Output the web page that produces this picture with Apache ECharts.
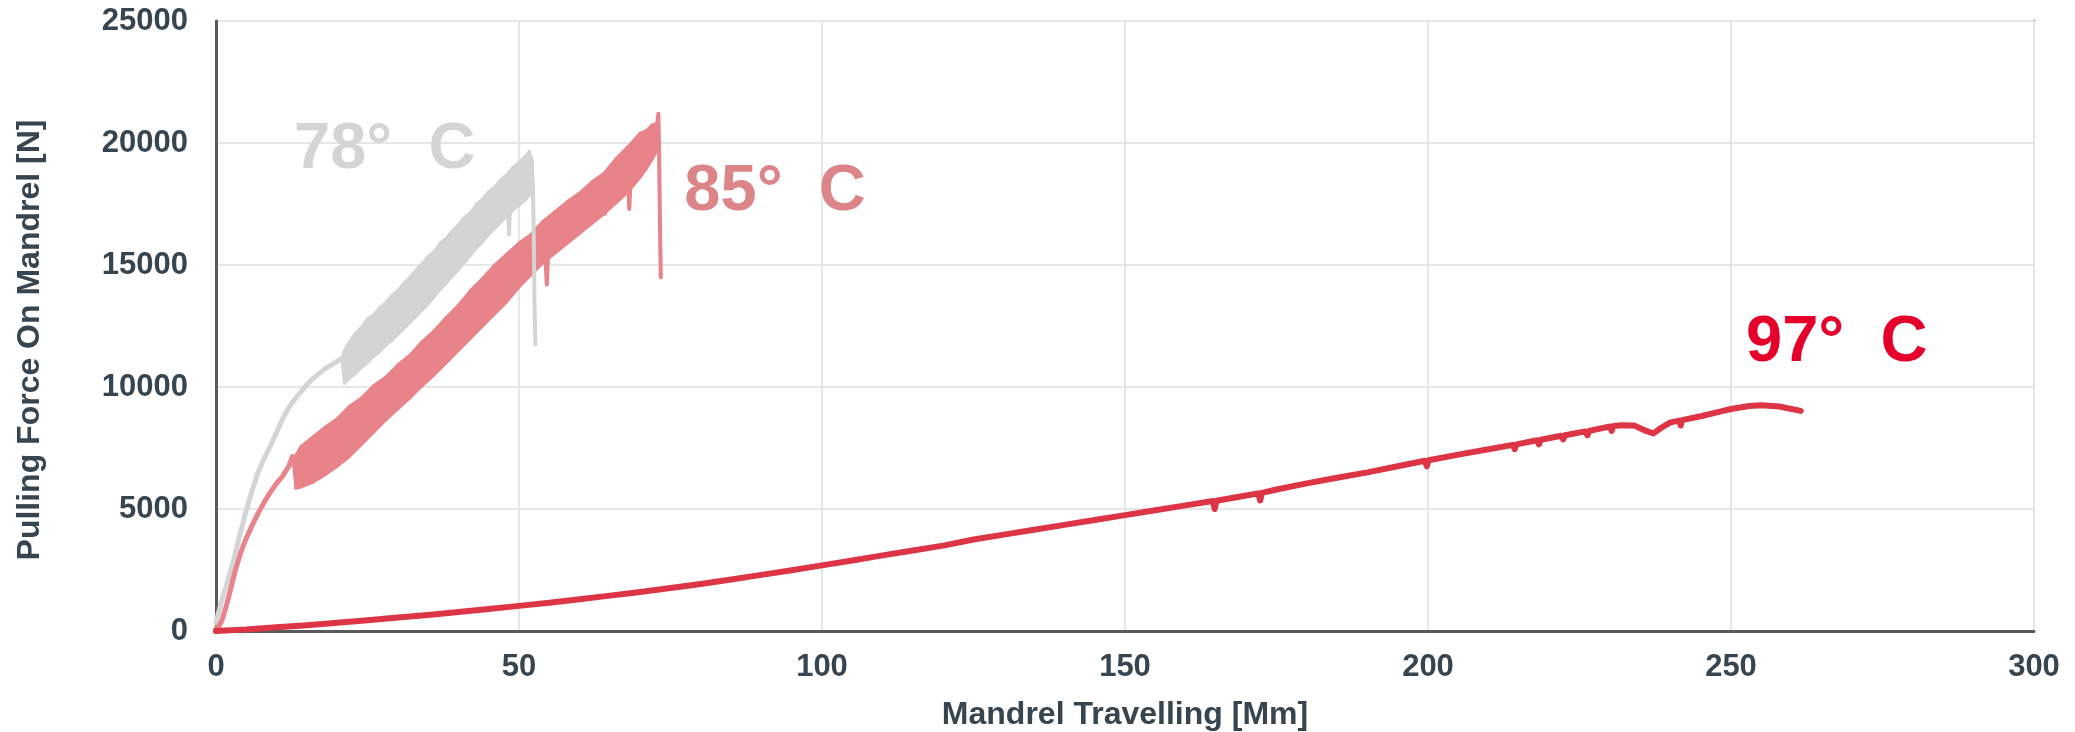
<!DOCTYPE html>
<html>
<head>
<meta charset="utf-8">
<script src="https://cdn.jsdelivr.net/npm/echarts@6/dist/echarts.min.js"></script>
<style>
  html, body { margin: 0; padding: 0; background: #fff; }
  #chart { width: 2075px; height: 732px; }
</style>
</head>
<body>
<div id="chart"></div>
<script>
// 78 C run: smooth ramp, then noisy band (lower / upper edge), spike and final drop
var t78Ramp = [[0,350],[1,1300],[2,2100],[3,3000],[4,4000],[5,4950],[6,5800],[7,6550],[8,7100],[9,7600],[10,8150],
  [11,8700],[12,9150],[13,9500],[14,9800],[15,10100],[16,10350],[17,10550],[18,10750],[19,10900],[20,11050],[20.6,11150]];
var t78BandX  = [20.8, 21.2, 22, 23, 24, 25, 26, 27, 28, 29, 30, 31, 32, 33, 34, 35, 36, 37, 38, 39, 40,
  41, 42, 43, 44, 45, 46, 47, 48, 49, 50, 51, 51.7, 52.2];
var t78BandLo = [11100, 10150, 10350, 10550, 10800, 11000, 11250, 11450, 11700, 11900, 12150, 12400, 12650, 12900, 13150, 13400, 13700, 14000, 14250, 14550, 14800,
  15100, 15400, 15700, 15950, 16250, 16500, 16750, 17000, 17250, 17450, 17650, 17850, 18000];
var t78BandHi = [11200, 11500, 11850, 12200, 12450, 12800, 12950, 13250, 13450, 13750, 13950, 14250, 14500, 14800, 15050, 15350, 15550, 15900, 16100, 16400, 16650,
  16950, 17150, 17500, 17700, 18000, 18200, 18500, 18700, 19000, 19200, 19450, 19650, 19300];
var t78Tail = [[48.2,17400],[48.35,16250],[48.5,17400],[null,null],[52.1,19200],[52.3,18200],[52.45,16000],[52.55,13500],[52.7,11750]];

// 85 C run
var t85Ramp = [[0,100],[0.5,200],[1,450],[1.5,850],[2,1300],[2.5,1800],[3,2300],[3.5,2750],[4,3150],[4.5,3500],[5,3800],
  [6,4350],[7,4850],[8,5300],[9,5700],[10,6050],[11,6350],[12,6750],[12.6,7150]];
var t85BandX  = [12.8, 13.2, 14, 16, 18, 20, 22, 24, 26, 28, 30, 32, 34, 36, 38, 40, 42, 44, 46, 48, 50,
  52, 54, 56, 58, 60, 62, 64, 66, 68, 70, 71, 72, 72.8];
var t85BandLo = [6800, 5850, 5900, 6100, 6400, 6750, 7150, 7650, 8150, 8650, 9100, 9550, 10050, 10500, 11000, 11500, 12000, 12500, 13000, 13500, 14100,
  14600, 15100, 15500, 15900, 16300, 16700, 17100, 17550, 18000, 18600, 18950, 19350, 19700];
var t85BandHi = [7150, 7200, 7550, 7950, 8350, 8700, 9200, 9550, 10050, 10400, 10900, 11300, 11850, 12300, 12850, 13350, 13950, 14450, 15000, 15450, 15900,
  16250, 16800, 17200, 17600, 17950, 18400, 18750, 19350, 19850, 20400, 20500, 20750, 20800];
var t85Tail = [[54.3,15500],[54.6,14200],[54.8,15500],[null,null],[64.0,17600],[64.2,17100],[64.4,17600],[null,null],
  [68.0,18400],[68.2,17300],[68.4,18400],[null,null],[72.8,20800],[73.0,21200],[73.1,20000],[73.2,18000],[73.3,16000],[73.4,14500]];

// 97 C run
var t97 = [[0,0],[5,60],[10,150],[15,240],[20,340],[25,440],[30,550],[35,660],[40,780],[45,900],[50,1030],[55,1160],[60,1300],
  [65,1450],[70,1600],[75,1760],[80,1930],[85,2110],[90,2300],[95,2490],[100,2690],[105,2890],[110,3100],[115,3300],[120,3500],
  [125,3750],[130,3950],[135,4150],[140,4350],[145,4550],[150,4750],[155,4950],[160,5150],[164.5,5330],[164.8,5000],[165.1,5340],
  [170,5550],[172,5640],[172.3,5350],[172.6,5660],[175,5800],[180,6050],[185,6280],[190,6500],[195,6750],[199.5,6980],[199.8,6750],
  [200.1,7000],[205,7230],[210,7450],[214,7630],[214.3,7450],[214.6,7650],[218,7820],[218.3,7650],[218.6,7840],[222,8000],
  [222.3,7850],[222.6,8020],[226,8180],[226.3,8020],[226.6,8200],[230,8380],[230.3,8200],[230.6,8400],[232,8430],[234,8420],
  [236,8200],[237.2,8100],[238.5,8330],[240,8550],[241.5,8620],[241.7,8420],[241.9,8640],[245,8800],[248,8980],[250,9100],
  [253,9220],[255,9250],[258,9200],[261.5,9020]];

var xMin = 0, xMax = 300, xStep = 50;
var yMin = 0, yMax = 25000, yStep = 5000;

var c78 = '#d4d4d4', c85 = '#e8838a', c97 = '#dd3545';
var ink = '#36454f';
var font = "'Liberation Sans', Arial, sans-serif";

function line(data, color, width, extra) {
  var s = {
    type: 'line', data: data, showSymbol: false, symbol: 'none', silent: true,
    lineStyle: { color: color, width: width, join: 'round', cap: 'round' },
    itemStyle: { color: color }
  };
  for (var k in extra) s[k] = extra[k];
  return s;
}

// filled band between a lower and an upper edge, one quad per segment
function band(xs, lo, hi, color) {
  return {
    type: 'custom', silent: true,
    data: xs.map(function (x, i) { return [x, lo[i], hi[i]]; }),
    encode: { x: 0, y: [1, 2] },
    renderItem: function (params, api) {
      var i = params.dataIndexInside;
      if (i >= params.dataInsideLength - 1) return;
      var pts = [
        api.coord([api.value(0, i), api.value(1, i)]),
        api.coord([api.value(0, i + 1), api.value(1, i + 1)]),
        api.coord([api.value(0, i + 1), api.value(2, i + 1)]),
        api.coord([api.value(0, i), api.value(2, i)])
      ];
      return {
        type: 'polygon', shape: { points: pts },
        style: { fill: color, stroke: color, lineWidth: 3, lineJoin: 'round' }
      };
    }
  };
}

function tag(coord, text, color) {
  return {
    symbol: 'circle', symbolSize: 1, silent: true,
    itemStyle: { color: 'rgba(0,0,0,0)' },
    label: {
      show: true, position: 'right', distance: 0, formatter: text,
      color: color, fontSize: 65, fontWeight: 'bold', fontFamily: font
    },
    data: [{ coord: coord }]
  };
}

var chart = echarts.init(document.getElementById('chart'), null, { renderer: 'canvas' });
chart.setOption({
  animation: false,
  backgroundColor: '#fff',
  grid: {
    left: 216, right: 41, top: 21, bottom: 101,
    containLabel: false, outerBoundsMode: 'none',
    show: true, borderColor: '#6b6b6b', borderWidth: 2
  },
  xAxis: {
    type: 'value', min: xMin, max: xMax, interval: xStep,
    name: 'Mandrel Travelling [Mm]', nameLocation: 'middle', nameGap: 68,
    nameTextStyle: { color: ink, fontSize: 32, fontWeight: 'bold', fontFamily: font },
    axisLine: { show: true, lineStyle: { color: '#5a5a5a', width: 3 } },
    axisTick: { show: false },
    axisLabel: { color: ink, fontSize: 31, fontWeight: 'bold', fontFamily: font, margin: 21,
      formatter: function (v) { return String(v); } },
    splitLine: { show: true, lineStyle: { color: '#e6e6e6', width: 2 } }
  },
  yAxis: {
    type: 'value', min: yMin, max: yMax, interval: yStep,
    name: 'Pulling Force On Mandrel [N]', nameLocation: 'middle', nameGap: 170,
    nameTextStyle: { color: ink, fontSize: 32, fontWeight: 'bold', fontFamily: font, padding: [0, 28, 0, 0] },
    axisLine: { show: true, lineStyle: { color: '#5a5a5a', width: 3 } },
    axisTick: { show: false },
    axisLabel: { color: ink, fontSize: 31, fontWeight: 'bold', fontFamily: font, margin: 28,
      formatter: function (v) { return String(v); } },
    splitLine: { show: true, lineStyle: { color: '#e6e6e6', width: 2 } }
  },
  series: [
    line(t78Ramp, c78, 5, { markPoint: tag([12.8, 19700], '78°  C', c78) }),
    band(t78BandX, t78BandLo, t78BandHi, c78),
    line(t78Tail, c78, 4, { connectNulls: false }),

    line(t85Ramp, c85, 5, { markPoint: tag([77.2, 18000], '85°  C', '#dc8589') }),
    band(t85BandX, t85BandLo, t85BandHi, c85),
    line(t85Tail, c85, 4, { connectNulls: false }),

    line(t97, c97, 6, { markPoint: tag([252.4, 11800], '97°  C', '#e4002b') })
  ]
});
</script>
</body>
</html>
